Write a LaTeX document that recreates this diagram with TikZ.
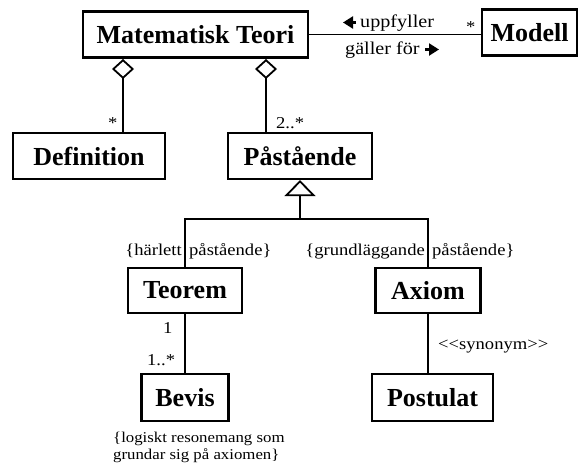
\documentclass[tikz,border=0pt]{standalone}
\usepackage{fontspec}
\setmainfont{Liberation Serif}
\newfontfamily\lblfont[FakeStretch=1.12]{Liberation Serif}
\usetikzlibrary{arrows.meta}
\begin{document}
\begin{tikzpicture}[x=1pt,y=-1pt,
  cls/.style={draw, line width=2.2pt, font=\fontsize{26}{26}\selectfont\bfseries,
              inner sep=0pt, minimum height=46pt},
  lbl/.style={font=\lblfont\fontsize{16.6}{17}\selectfont, inner sep=0pt},
  biglbl/.style={font=\lblfont\fontsize{18}{18}\selectfont, inner sep=0pt},
  note/.style={font=\lblfont\fontsize{15}{17}\selectfont, inner sep=0pt, align=left},
  conn/.style={line width=1.8pt},
  aggr/.style={conn, {Diamond[open,length=20pt,width=22pt]}-},
  gen/.style={conn, {Triangle[open,length=16pt,width=31pt]}-},
  dirtip/.style={line width=2.2pt, -{Triangle[length=10pt,width=12pt]}},
]
\useasboundingbox (0,0) rectangle (579,469);

% classes
\node[cls, minimum width=225pt] (mt)       at (195.5,34.5) {Matematisk Teori};
\node[cls, minimum width=95pt]  (modell)   at (529.5,32.5) {Modell};
\node[cls, minimum width=152pt] (def)      at (89,156)     {Definition};
\node[cls, minimum width=144pt] (pa)       at (300,156)    {Påstående};
\node[cls, minimum width=114pt, minimum height=45pt] (teorem) at (185,290.5) {Teorem};
\node[cls, minimum width=105pt, minimum height=45pt] (axiom)  at (428,290.5) {Axiom};
\node[cls, minimum width=87pt, minimum height=47pt]  (bevis)    at (185,397.5) {Bevis};
\node[cls, minimum width=121pt, minimum height=47pt] (postulat) at (432.5,397.5) {Postulat};

% association Matematisk Teori -- Modell
\draw[conn] (mt.east) -- (mt.east -| modell.west);
\node[biglbl, anchor=base west] (upp) at (360,27) {uppfyller};
\node[biglbl, anchor=base west] (gal) at (345,54) {gäller för};
\coordinate (uppA) at (356,22.5);
\coordinate (uppB) at (343,22.5);
\coordinate (galA) at (425,49.5);
\coordinate (galB) at (439,49.5);
\draw[dirtip] (uppA) -- (uppB);
\draw[dirtip] (galA) -- (galB);
\node[lbl, anchor=base west] (mstar) at (466,32) {*};

% aggregations
\coordinate (agg1) at (123,59);
\coordinate (agg2) at (266,59);
\draw[aggr] (agg1) -- (agg1 |- def.north);
\draw[aggr] (agg2) -- (agg2 |- pa.north);
\node[lbl, anchor=base west] (dstar) at (108,128) {*};
\node[lbl, anchor=base west] (pmult) at (276,128) {2..*};

% generalization
\coordinate (bar) at (300,219);
\draw[gen] (pa.south) -- (bar);
\draw[conn] (teorem.north) |- (bar) -| (axiom.north);
\node[lbl, anchor=base east] (hl) at (182,255) {\{härlett};
\node[lbl, anchor=base west] (hr) at (189,255) {påstående\}};
\node[lbl, anchor=base east] (gl) at (425,255) {\{grundläggande};
\node[lbl, anchor=base west] (gr) at (432,255) {påstående\}};

% Teorem -- Bevis
\draw[conn] (teorem.south) -- (bevis.north);
\node[lbl, anchor=base west] (m1) at (163,333) {1};
\node[lbl, anchor=base west] (m2) at (147,365) {1..*};

% Axiom -- Postulat
\draw[conn] (axiom.south) -- (axiom.south |- postulat.north);
\node[lbl, anchor=base west] (syn) at (438,349) {<{}<synonym>{}>};

% constraint on Bevis
\node[note, anchor=north west] (cons) at (113,432)
  {\{logiskt resonemang som\\grundar sig på axiomen\}};
\end{tikzpicture}
\end{document}
